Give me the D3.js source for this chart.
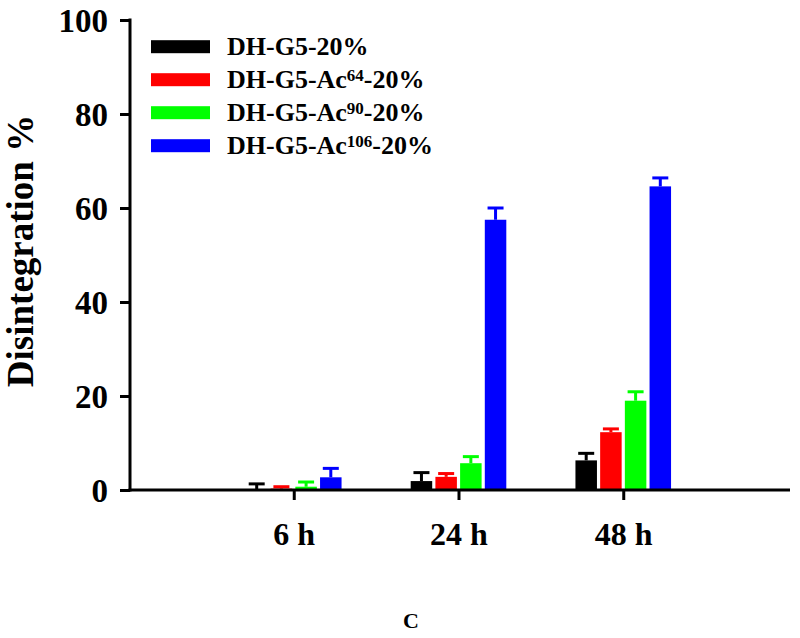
<!DOCTYPE html>
<html>
<head>
<meta charset="utf-8">
<script src="https://cdn.jsdelivr.net/npm/d3@7"></script>
<style>
  html, body { margin: 0; padding: 0; background: #fff; }
  svg { display: block; }
  text { font-family: "Liberation Serif", "Times New Roman", serif; font-weight: bold; fill: #000; }
</style>
</head>
<body>
<svg id="chart" width="800" height="638"></svg>
<script>
// ---- data ----
const categories = ["6 h", "24 h", "48 h"];
const seriesNames = ["DH-G5-20%", "DH-G5-Ac64-20%", "DH-G5-Ac90-20%", "DH-G5-Ac106-20%"];
const seriesBase = ["DH-G5", "DH-G5-Ac", "DH-G5-Ac", "DH-G5-Ac"];
const seriesSup = ["", "64", "90", "106"];
const seriesColors = ["#000000", "#ff0000", "#00ff00", "#0000ff"];
const valuesG5 = [0.2, 1.9, 6.3];
const valuesAc64 = [0.3, 2.8, 12.3];
const valuesAc90 = [0.7, 5.7, 19.0];
const valuesAc106 = [2.7, 57.5, 64.6];
const errG5 = [1.1, 1.8, 1.5];
const errAc64 = [0.4, 0.7, 0.7];
const errAc90 = [1.0, 1.4, 1.9];
const errAc106 = [1.9, 2.5, 1.8];
const yTicks = [0, 20, 40, 60, 80, 100];
const yTitle = "Disintegration %";
const panelLabel = "C";

const seriesValues = [valuesG5, valuesAc64, valuesAc90, valuesAc106];
const seriesErr = [errG5, errAc64, errAc90, errAc106];

// ---- layout ----
const svg = d3.select("#chart");
const x = d3.scaleLinear().domain([0, 4]).range([129, 788]);
const y = d3.scaleLinear().domain([0, 100]).range([490, 20]);
const barStep = 24.7;
const barW = 21.5;
const capW = 16;

// bars
seriesNames.forEach((name, si) => {
  const g = svg.append("g").attr("class", "series");
  const offset = (si - 1.5) * barStep;
  const data = categories.map((c, ci) => ({ ci, v: seriesValues[si][ci], e: seriesErr[si][ci] }));
  g.selectAll("rect").data(data).enter().append("rect")
    .attr("x", d => x(d.ci + 1) + offset - barW / 2)
    .attr("y", d => y(d.v))
    .attr("width", barW)
    .attr("height", d => y(0) - y(d.v))
    .attr("fill", seriesColors[si]);
  // error bars (upper only)
  g.selectAll("line.stem").data(data).enter().append("line")
    .attr("class", "stem")
    .attr("x1", d => x(d.ci + 1) + offset).attr("x2", d => x(d.ci + 1) + offset)
    .attr("y1", d => y(d.v)).attr("y2", d => y(d.v + d.e))
    .attr("stroke", seriesColors[si]).attr("stroke-width", 3);
  g.selectAll("line.cap").data(data).enter().append("line")
    .attr("class", "cap")
    .attr("x1", d => x(d.ci + 1) + offset - capW / 2).attr("x2", d => x(d.ci + 1) + offset + capW / 2)
    .attr("y1", d => y(d.v + d.e)).attr("y2", d => y(d.v + d.e))
    .attr("stroke", seriesColors[si]).attr("stroke-width", 3);
});

// axes
const yAxis = d3.axisLeft(y).tickValues(yTicks).tickSize(10).tickSizeOuter(0).tickPadding(12);
const yg = svg.append("g").attr("transform", "translate(130,0)").call(yAxis);
yg.select(".domain").attr("stroke", "#000").attr("stroke-width", 3).attr("d", "M0,18.5V491.5");
yg.selectAll(".tick line").attr("stroke", "#000").attr("stroke-width", 3);
yg.selectAll(".tick text").attr("font-size", 33).attr("font-family", "Liberation Serif").attr("font-weight", "bold").attr("dy", "0.34em");

const xAxis = d3.axisBottom(x).tickValues([1, 2, 3]).tickFormat(d => categories[d - 1]).tickSize(10).tickSizeOuter(0).tickPadding(22);
const xg = svg.append("g").attr("transform", "translate(0,490)").call(xAxis);
xg.select(".domain").attr("stroke", "#000").attr("stroke-width", 3).attr("d", "M128.5,0H790");
xg.selectAll(".tick line").attr("stroke", "#000").attr("stroke-width", 3);
xg.selectAll(".tick text").attr("font-size", 32).attr("font-family", "Liberation Serif").attr("font-weight", "bold");

// y title
svg.append("text")
  .attr("transform", "translate(33,251) rotate(-90)")
  .attr("text-anchor", "middle")
  .attr("font-size", 37)
  .text(yTitle);

// panel label
svg.append("text")
  .attr("x", 411).attr("y", 628)
  .attr("text-anchor", "middle")
  .attr("font-size", 22)
  .text(panelLabel);

// legend
const legend = svg.append("g");
seriesNames.forEach((name, si) => {
  const cy = 46.7 + si * 33;
  legend.append("rect")
    .attr("x", 151).attr("y", cy - 6.5)
    .attr("width", 59).attr("height", 13)
    .attr("fill", seriesColors[si]);
  const t = legend.append("text")
    .attr("x", 227).attr("y", cy + 8.5)
    .attr("font-size", 26);
  t.append("tspan").text(seriesBase[si]);
  if (seriesSup[si]) {
    t.append("tspan").attr("font-size", 17).attr("dy", -7).text(seriesSup[si]);
    t.append("tspan").attr("dy", 7).text("-20%");
  } else {
    t.append("tspan").text("-20%");
  }
});
</script>
</body>
</html>
